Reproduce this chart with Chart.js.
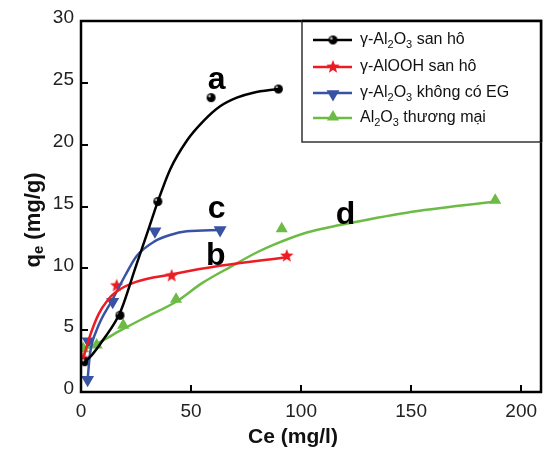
<!DOCTYPE html>
<html>
<head>
<meta charset="utf-8">
<script src="https://cdn.jsdelivr.net/npm/chart.js@4/dist/chart.umd.min.js"></script>
<style>
  html, body { margin: 0; padding: 0; background: #fff; }
  #chart { display: block; }
</style>
</head>
<body>
<canvas id="chart" width="543" height="452"></canvas>
<script>
// axis ticks
const xTicks = [0, 50, 100, 150, 200];
const yTicks = [0, 5, 10, 15, 20, 25, 30];

// measured points (Ce mg/l, qe mg/g)
const aX = [1.7, 17.7, 34.9, 59.1, 89.7];
const aY = [2.45, 6.2, 15.4, 23.8, 24.5];
const bX = [1.0, 16.2, 41.2, 93.5];
const bY = [2.7, 8.6, 9.4, 11.0];
const cX = [3.0, 3.3, 14.4, 33.6, 63.2];
const cY = [1.0, 4.1, 7.3, 13.0, 13.1];
const dX = [1.0, 7.1, 19.2, 43.2, 91.2, 188.2];
const dY = [3.5, 3.8, 5.4, 7.5, 13.2, 15.5];

// fitted curves
const aFitX = [1.7, 5, 10, 17.7, 25, 30, 34.9, 40.5, 48, 55.6, 63.2, 70.8, 78.3, 89.7];
const aFitY = [2.4, 3.0, 4.2, 6.4, 10.2, 12.8, 15.4, 18.0, 20.3, 21.9, 23.1, 23.8, 24.2, 24.5];
const bFitX = [1.0, 4, 8, 12, 16, 25, 41, 63, 93.5];
const bFitY = [2.7, 4.5, 6.3, 7.4, 8.1, 8.9, 9.5, 10.2, 10.9];
const cFitX = [3.0, 4.1, 7.1, 14.4, 20, 25.3, 33.6, 40.5, 48, 63.2];
const cFitY = [1.0, 3.1, 5.0, 7.5, 9.4, 11.0, 12.2, 12.7, 13.0, 13.1];
const dFitX = [1.0, 7.1, 19.2, 30, 43.2, 55, 67.7, 80, 87.4, 102.6, 117.7, 148, 188.2];
const dFitY = [3.4, 3.9, 5.1, 6.1, 7.3, 8.8, 10.1, 11.3, 11.9, 12.9, 13.5, 14.5, 15.4];

// legend names: [text, isSubscript]
const names = [
  [['γ-Al', 0], ['2', 1], ['O', 0], ['3', 1], [' san hô', 0]],
  [['γ-AlOOH san hô', 0]],
  [['γ-Al', 0], ['2', 1], ['O', 0], ['3', 1], [' không có EG', 0]],
  [['Al', 0], ['2', 1], ['O', 0], ['3', 1], [' thương mại', 0]]
];
const curveLetters = ['a', 'b', 'c', 'd'];
const letterX = [61.6, 61.2, 61.6, 120.2];
const letterY = [24.5, 10.3, 14.1, 13.6];

const colors = ['#000000', '#ed1c24', '#3853a4', '#6cbb45'];
const FONT = '"Liberation Sans", Arial, sans-serif';

function toXY(xs, ys) { return xs.map((v, i) => ({x: v, y: ys[i]})); }

function makeStar(color, ro, ri) {
  const c = document.createElement('canvas');
  const s = Math.ceil(ro * 2 + 2);
  c.width = c.height = s;
  const g = c.getContext('2d');
  g.translate(s / 2, s / 2);
  g.beginPath();
  for (let i = 0; i < 10; i++) {
    const r = i % 2 ? ri : ro;
    const a = -Math.PI / 2 + i * Math.PI / 5;
    g.lineTo(r * Math.cos(a), r * Math.sin(a));
  }
  g.closePath();
  g.fillStyle = color;
  g.fill();
  return c;
}

function makeBall(r) {
  const c = document.createElement('canvas');
  const s = Math.ceil(r * 2 + 2);
  c.width = c.height = s;
  const g = c.getContext('2d');
  g.beginPath();
  g.arc(s / 2, s / 2, r, 0, Math.PI * 2);
  g.fillStyle = '#000';
  g.fill();
  g.beginPath();
  g.arc(s / 2 - r * 0.35, s / 2 - r * 0.35, r * 0.3, 0, Math.PI * 2);
  g.fillStyle = '#bbb';
  g.fill();
  return c;
}

const ball = makeBall(4.5);
const star = makeStar(colors[1], 7, 3);

function triangle(ctx, x, y, r, down, color) {
  ctx.beginPath();
  for (let i = 0; i < 3; i++) {
    const a = (down ? Math.PI : 0) + i * 2 * Math.PI / 3;
    ctx.lineTo(x + Math.sin(a) * r, y - Math.cos(a) * r);
  }
  ctx.closePath();
  ctx.fillStyle = color;
  ctx.fill();
}

function fitSet(xs, ys, color) {
  return {
    data: toXY(xs, ys), showLine: true, borderColor: color, borderWidth: 2.5,
    pointRadius: 0, cubicInterpolationMode: 'monotone', fill: false
  };
}

function markSet(xs, ys, color, style, radius, rot) {
  return {
    data: toXY(xs, ys), showLine: false, pointStyle: style, pointRadius: radius,
    pointRotation: rot || 0, backgroundColor: color, borderColor: color, borderWidth: 0
  };
}

function drawParts(ctx, parts, x, y, size) {
  parts.forEach(([t, sub]) => {
    ctx.font = (sub ? Math.round(size * 0.7) : size) + 'px ' + FONT;
    ctx.fillText(t, x, y + (sub ? size * 0.28 : 0));
    x += ctx.measureText(t).width;
  });
}

const decor = {
  id: 'decor',
  afterDraw(chart) {
    const {ctx, chartArea: ca, scales: {x, y}} = chart;
    ctx.save();
    ctx.strokeStyle = '#000';
    ctx.lineCap = 'butt';

    // inner ticks
    ctx.lineWidth = 2;
    xTicks.forEach(v => {
      if (v === 0) return;
      const px = Math.round(x.getPixelForValue(v));
      ctx.beginPath(); ctx.moveTo(px, ca.bottom); ctx.lineTo(px, ca.bottom - 7); ctx.stroke();
    });
    yTicks.forEach(v => {
      if (v === 0 || v === 30) return;
      const py = Math.round(y.getPixelForValue(v));
      ctx.beginPath(); ctx.moveTo(ca.left, py); ctx.lineTo(ca.left + 7, py); ctx.stroke();
    });

    // frame
    ctx.lineWidth = 2.5;
    ctx.strokeRect(ca.left, ca.top, ca.right - ca.left, ca.bottom - ca.top);

    // legend
    const lx = 302, ly = ca.top, lw = ca.right - lx, lh = 121;
    ctx.fillStyle = '#fff';
    ctx.fillRect(lx, ly + 1, lw - 1, lh - 1);
    ctx.lineWidth = 1.5;
    ctx.strokeStyle = '#333';
    ctx.strokeRect(lx, ly, lw, lh);
    ctx.lineWidth = 2.5;
    ctx.strokeStyle = '#000';
    ctx.beginPath(); ctx.moveTo(lx, ly); ctx.lineTo(ca.right, ly); ctx.lineTo(ca.right, ly + lh); ctx.stroke();
    const rows = [40, 67, 93, 118];
    rows.forEach((ry, i) => {
      ctx.strokeStyle = colors[i];
      ctx.lineWidth = 2.5;
      ctx.beginPath(); ctx.moveTo(313, ry); ctx.lineTo(352, ry); ctx.stroke();
      if (i === 0) ctx.drawImage(ball, 333 - ball.width / 2, ry - ball.height / 2);
      if (i === 1) ctx.drawImage(star, 333 - star.width / 2, ry - star.height / 2);
      if (i === 2) triangle(ctx, 333, ry + 1, 7.5, true, colors[2]);
      if (i === 3) triangle(ctx, 333, ry - 1, 7, false, colors[3]);
      ctx.fillStyle = '#111';
      ctx.textAlign = 'left';
      ctx.textBaseline = 'middle';
      drawParts(ctx, names[i], 360, ry, 16);
    });

    // curve letters
    ctx.fillStyle = '#000';
    ctx.textAlign = 'center';
    ctx.textBaseline = 'alphabetic';
    ctx.font = 'bold 32px ' + FONT;
    curveLetters.forEach((t, i) => {
      ctx.fillText(t, x.getPixelForValue(letterX[i]), y.getPixelForValue(letterY[i]));
    });

    // axis titles
    ctx.fillStyle = '#111';
    ctx.font = 'bold 21px ' + FONT;
    ctx.textBaseline = 'middle';
    ctx.fillText('Ce (mg/l)', 293, 437);

    ctx.save();
    ctx.translate(34, 220);
    ctx.rotate(-Math.PI / 2);
    const yParts = [['q', 0], ['e', 1], [' (mg/g)', 0]];
    let w = 0;
    yParts.forEach(([t, sub]) => {
      ctx.font = 'bold ' + (sub ? 15 : 22) + 'px ' + FONT;
      w += ctx.measureText(t).width;
    });
    let tx = -w / 2;
    ctx.textAlign = 'left';
    yParts.forEach(([t, sub]) => {
      ctx.font = 'bold ' + (sub ? 15 : 22) + 'px ' + FONT;
      ctx.fillText(t, tx, sub ? 5 : 0);
      tx += ctx.measureText(t).width;
    });
    ctx.restore();

    ctx.restore();
  }
};

new Chart(document.getElementById('chart'), {
  type: 'scatter',
  data: {
    datasets: [
      fitSet(aFitX, aFitY, colors[0]),
      fitSet(bFitX, bFitY, colors[1]),
      fitSet(cFitX, cFitY, colors[2]),
      fitSet(dFitX, dFitY, colors[3]),
      markSet(aX, aY, colors[0], ball, 4.5),
      markSet(bX, bY, colors[1], star, 7),
      markSet(cX, cY, colors[2], 'triangle', 7.5, 180),
      markSet(dX, dY, colors[3], 'triangle', 7)
    ]
  },
  options: {
    responsive: false,
    animation: false,
    layout: { autoPadding: false, padding: { left: 0, right: 2, top: 21, bottom: 0 } },
    plugins: { legend: { display: false }, tooltip: { enabled: false } },
    scales: {
      x: {
        type: 'linear', min: 0, max: 209,
        grid: { display: false, drawTicks: false },
        border: { display: false },
        ticks: {
          stepSize: 50, includeBounds: false, padding: 8, color: '#222',
          font: { family: FONT, size: 19 }
        },
        afterFit(s) { s.height = 60; s.paddingLeft = 0; s.paddingRight = 0; }
      },
      y: {
        type: 'linear', min: 0, max: 30,
        grid: { display: false, drawTicks: false },
        border: { display: false },
        ticks: {
          stepSize: 5, padding: 7, labelOffset: -3, color: '#222',
          font: { family: FONT, size: 19 }
        },
        afterFit(s) { s.width = 81; s.paddingTop = 0; s.paddingBottom = 0; }
      }
    }
  },
  plugins: [decor]
});
</script>
</body>
</html>
